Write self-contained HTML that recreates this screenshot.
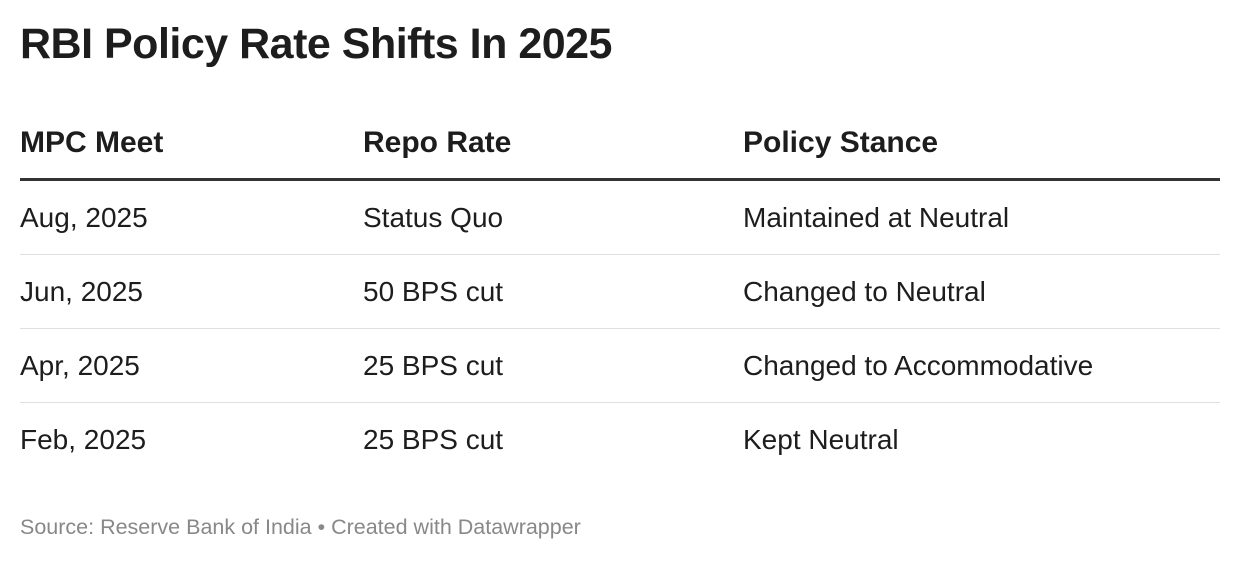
<!DOCTYPE html>
<html><head><style>
body{margin:0;width:1240px;height:562px;background:#fff;font-family:"Liberation Sans",sans-serif;color:#1d1d1d;position:relative;overflow:hidden}
.t{position:absolute;white-space:nowrap}
h1{position:absolute;left:20px;top:20px;margin:0;font-size:43px;font-weight:bold;letter-spacing:-0.5px}
.h{font-size:30px;font-weight:bold;top:126px}
.r{font-size:28px}
.line{position:absolute;left:20px;width:1200px;background:#e0e0e0;height:1px}
</style></head><body>
<h1>RBI Policy Rate Shifts In 2025</h1>
<div class="t h" style="left:20px">MPC Meet</div>
<div class="t h" style="left:363px">Repo Rate</div>
<div class="t h" style="left:743px">Policy Stance</div>
<div class="line" style="top:178px;height:3px;background:#333"></div>
<div class="t r" style="left:20px;top:202px">Aug, 2025</div><div class="t r" style="left:363px;top:202px">Status Quo</div><div class="t r" style="left:743px;top:202px">Maintained at Neutral</div>
<div class="line" style="top:254px"></div>
<div class="t r" style="left:20px;top:276px">Jun, 2025</div><div class="t r" style="left:363px;top:276px">50 BPS cut</div><div class="t r" style="left:743px;top:276px">Changed to Neutral</div>
<div class="line" style="top:328px"></div>
<div class="t r" style="left:20px;top:350px">Apr, 2025</div><div class="t r" style="left:363px;top:350px">25 BPS cut</div><div class="t r" style="left:743px;top:350px">Changed to Accommodative</div>
<div class="line" style="top:402px"></div>
<div class="t r" style="left:20px;top:424px">Feb, 2025</div><div class="t r" style="left:363px;top:424px">25 BPS cut</div><div class="t r" style="left:743px;top:424px">Kept Neutral</div>
<div class="t" style="left:20px;top:515px;font-size:21.5px;color:#888">Source: Reserve Bank of India • Created with Datawrapper</div>
</body></html>
